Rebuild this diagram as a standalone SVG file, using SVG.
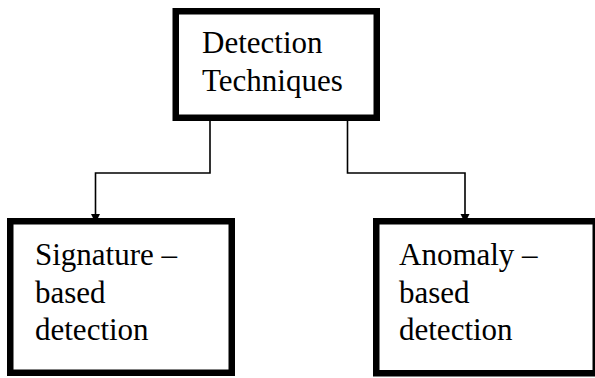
<svg xmlns="http://www.w3.org/2000/svg" width="595" height="378" viewBox="0 0 595 378">
  <style>
    .box { fill: #ffffff; stroke: #000000; stroke-width: 6.5; }
    .conn { fill: none; stroke: #000000; stroke-width: 1.6; }
    .lbl { font-family: "Liberation Serif", "Times New Roman", serif; font-size: 31px; fill: #000000; }
  </style>
  <defs>
    <marker id="arrow" viewBox="0 0 10 10" refX="10" refY="5" markerUnits="userSpaceOnUse" markerWidth="9" markerHeight="11" orient="auto">
      <path d="M0,0 L10,5 L0,10 z" fill="#000000"/>
    </marker>
  </defs>
  <rect width="595" height="378" fill="#ffffff"/>
  <g id="connectors">
    <path class="conn" d="M210,118 V173 H95.5 V223" marker-end="url(#arrow)"/>
    <path class="conn" d="M347.5,118 V173 H465 V223" marker-end="url(#arrow)"/>
  </g>
  <g id="detection-techniques">
    <rect class="box" x="175.75" y="11.25" width="201" height="106.5"/>
    <text class="lbl" x="202" y="53">Detection</text>
    <text class="lbl" x="202" y="91">Techniques</text>
  </g>
  <g id="signature-based">
    <rect class="box" x="10.25" y="221.25" width="221.5" height="151.5"/>
    <text class="lbl" x="35" y="265">Signature –</text>
    <text class="lbl" x="35" y="303">based</text>
    <text class="lbl" x="35" y="340">detection</text>
  </g>
  <g id="anomaly-based">
    <rect class="box" x="376.25" y="221.25" width="219.5" height="152"/>
    <text class="lbl" x="399" y="265">Anomaly –</text>
    <text class="lbl" x="399" y="303">based</text>
    <text class="lbl" x="399" y="340">detection</text>
  </g>
</svg>
